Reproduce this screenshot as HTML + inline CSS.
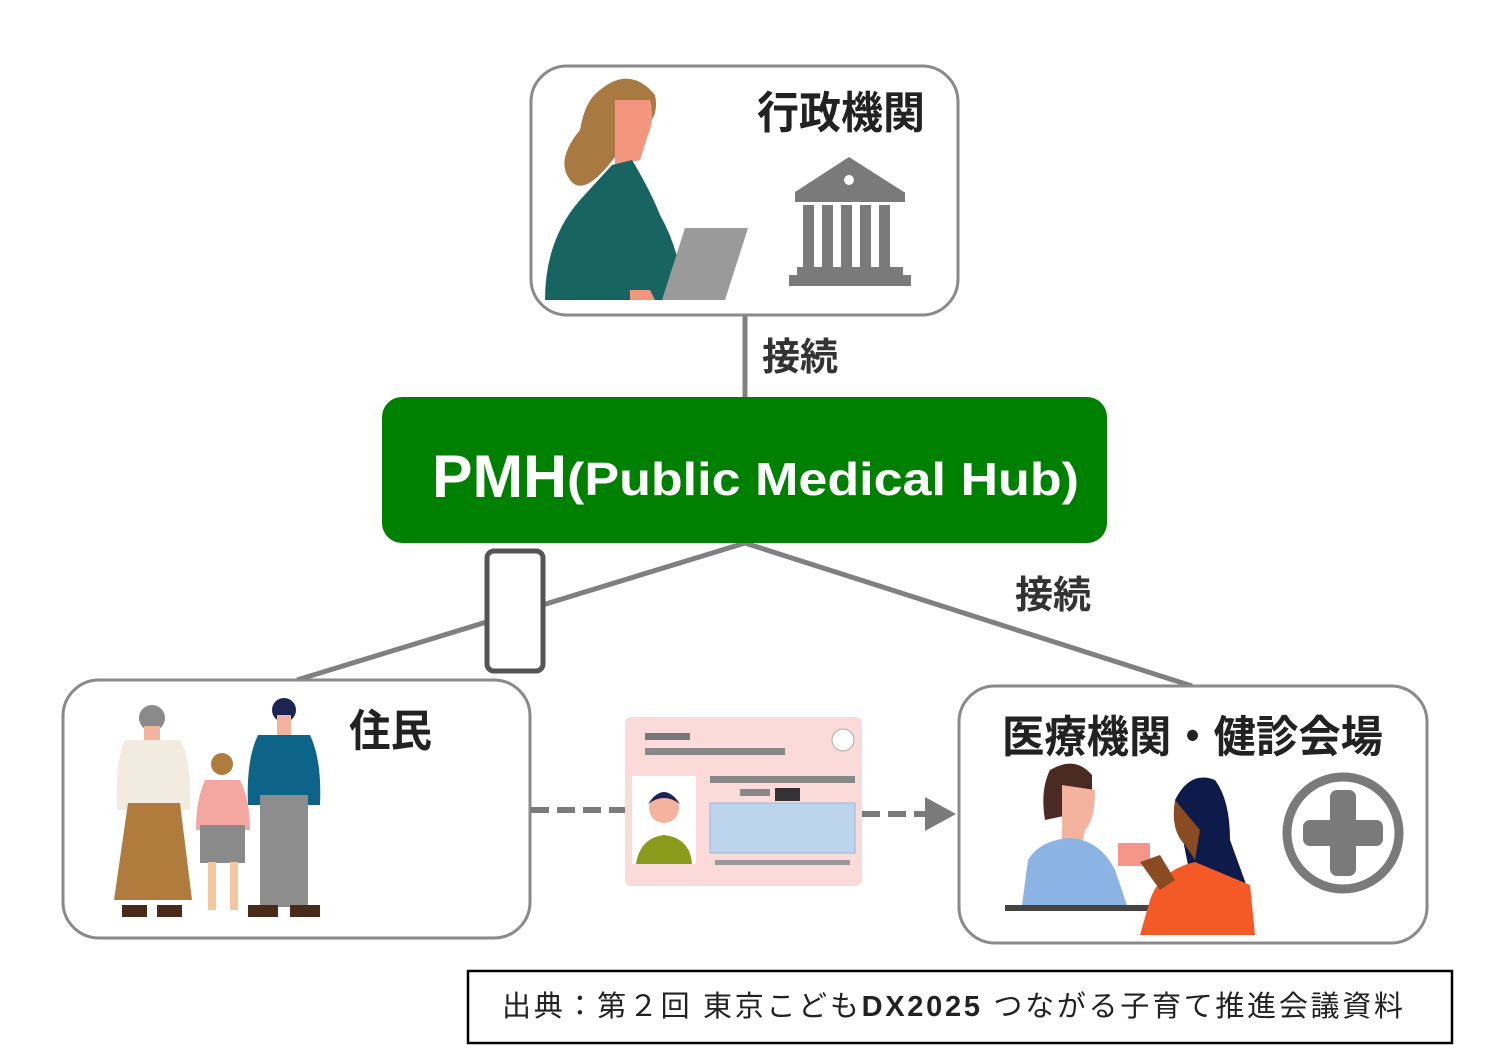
<!DOCTYPE html>
<html><head><meta charset="utf-8"><style>
html,body{margin:0;padding:0;background:#fff;}
svg{display:block;}
text{font-family:"Liberation Sans","Noto Sans CJK JP",sans-serif;}
</style></head><body>
<svg width="1490" height="1052" viewBox="0 0 1490 1052" xmlns="http://www.w3.org/2000/svg">
<line x1="745" y1="315" x2="745" y2="398" stroke="#808080" stroke-width="5"/>
<line x1="745" y1="543" x2="297" y2="680" stroke="#808080" stroke-width="5"/>
<line x1="745" y1="543" x2="1192" y2="686" stroke="#808080" stroke-width="5"/>
<text x="762" y="370" font-size="38" font-weight="bold" fill="#333" textLength="76" lengthAdjust="spacingAndGlyphs">接続</text>
<text x="1015" y="608" font-size="38" font-weight="bold" fill="#333" textLength="76" lengthAdjust="spacingAndGlyphs">接続</text>

<rect x="531" y="66" width="427" height="249" rx="36" fill="#fff" stroke="#8a8a8a" stroke-width="3"/>
<text x="757" y="128" font-size="44" font-weight="bold" fill="#222" textLength="168" lengthAdjust="spacingAndGlyphs">行政機関</text>
<path d="M600 90 Q630 65 655 95 Q660 120 640 130 L620 150 Q585 200 570 180 Q555 160 580 130 Q585 100 600 90Z" fill="#a87940"/>
<path d="M615 100 L650 100 Q655 120 648 135 L640 160 L615 165Z" fill="#f3957f"/>
<path d="M612 165 L632 160 Q650 190 660 215 Q680 250 685 300 L545 300 Q545 240 580 200Z" fill="#176461"/>
<path d="M685 228 L748 228 L725 300 L662 300Z" fill="#9a9a9a"/>
<path d="M630 290 L650 290 L655 300 L630 300Z" fill="#f3957f"/>
<polygon points="849,157 904,192 795,192" fill="#7a7a7a"/>
<circle cx="849" cy="180" r="5" fill="#fff"/>
<rect x="795" y="192" width="110" height="10" fill="#7a7a7a"/>
<rect x="803" y="205" width="11" height="62" fill="#7a7a7a"/>
<rect x="822" y="205" width="11" height="62" fill="#7a7a7a"/>
<rect x="841" y="205" width="11" height="62" fill="#7a7a7a"/>
<rect x="860" y="205" width="11" height="62" fill="#7a7a7a"/>
<rect x="879" y="205" width="11" height="62" fill="#7a7a7a"/>
<rect x="797" y="267" width="106" height="8" fill="#7a7a7a"/>
<rect x="789" y="275" width="122" height="11" fill="#7a7a7a"/>

<rect x="382" y="397" width="725" height="146" rx="20" fill="#008000"/>
<text x="432" y="497" font-size="60" font-weight="bold" fill="#fff" textLength="135" lengthAdjust="spacingAndGlyphs">PMH</text>
<text x="567" y="495" font-size="46" font-weight="bold" fill="#fff" textLength="512" lengthAdjust="spacingAndGlyphs">(Public Medical Hub)</text>

<rect x="487" y="551" width="56" height="120" rx="7" fill="#fff" stroke="#555" stroke-width="5"/>

<rect x="63" y="680" width="467" height="258" rx="36" fill="#fff" stroke="#8a8a8a" stroke-width="3"/>
<text x="349" y="746" font-size="44" font-weight="bold" fill="#222" textLength="83" lengthAdjust="spacingAndGlyphs">住民</text>
<circle cx="152" cy="718" r="13" fill="#8a8a8a"/>
<rect x="144" y="726" width="16" height="14" fill="#f3b39f"/>
<path d="M125 740 L180 740 Q192 760 190 810 L117 810 Q115 760 125 740Z" fill="#f1ecdf"/>
<path d="M128 803 L180 803 L192 900 L114 900Z" fill="#b07c3e"/>
<rect x="122" y="905" width="25" height="12" fill="#4a2a1a"/>
<rect x="157" y="905" width="25" height="12" fill="#4a2a1a"/>
<circle cx="222" cy="764" r="11" fill="#b07c3e"/>
<path d="M205 780 L240 780 Q250 800 250 830 L196 830 Q196 800 205 780Z" fill="#f4a6a0"/>
<rect x="200" y="825" width="45" height="38" fill="#8a8a8a"/>
<rect x="208" y="862" width="8" height="48" fill="#f3c79f"/>
<rect x="230" y="862" width="8" height="48" fill="#f3c79f"/>
<circle cx="284" cy="710" r="12" fill="#1c2550"/>
<rect x="277" y="715" width="14" height="22" fill="#f3b39f"/>
<path d="M258 735 L310 735 Q322 760 320 805 L248 805 Q246 760 258 735Z" fill="#0e6388"/>
<rect x="260" y="795" width="48" height="112" fill="#8d8d8d"/>
<rect x="248" y="905" width="30" height="12" fill="#4a2a1a"/>
<rect x="290" y="905" width="30" height="12" fill="#4a2a1a"/>

<line x1="531" y1="810" x2="625" y2="810" stroke="#7a7a7a" stroke-width="6" stroke-dasharray="18,8"/>
<line x1="862" y1="814" x2="925" y2="814" stroke="#7a7a7a" stroke-width="6" stroke-dasharray="18,8"/>
<polygon points="925,797 956,814 925,831" fill="#7a7a7a"/>

<rect x="625" y="717" width="237" height="169" rx="6" fill="#fbdada"/>
<rect x="632" y="776" width="64" height="88" fill="#fff"/>
<circle cx="664" cy="808" r="15" fill="#f3b39f"/>
<path d="M648 804 Q664 780 680 804 Q664 792 648 804Z" fill="#1c2550"/>
<path d="M636 864 Q640 838 664 835 Q690 838 692 864Z" fill="#8a9a1a"/>
<rect x="710" y="803" width="145" height="50" fill="#bcd4ec" stroke="#9bb8d6"/>
<rect x="645" y="748" width="140" height="7" fill="#888"/>
<rect x="710" y="776" width="145" height="7" fill="#888"/>
<rect x="740" y="789" width="30" height="7" fill="#888"/>
<rect x="775" y="788" width="25" height="13" fill="#333"/>
<rect x="715" y="860" width="135" height="5" fill="#999"/>
<rect x="645" y="733" width="45" height="7" fill="#777"/>
<circle cx="843" cy="740" r="11" fill="#fff" stroke="#aaa"/>

<rect x="959" y="686" width="468" height="257" rx="36" fill="#fff" stroke="#8a8a8a" stroke-width="3"/>
<text x="1002" y="752" font-size="44" font-weight="bold" fill="#222" textLength="381" lengthAdjust="spacingAndGlyphs">医療機関・健診会場</text>
<path d="M1050 770 Q1075 755 1092 775 L1092 810 L1045 820 Q1040 790 1050 770Z" fill="#4a2a22"/>
<path d="M1062 785 L1095 790 Q1095 820 1085 830 L1082 845 L1062 845Z" fill="#f3b39f"/>
<path d="M1028 860 Q1040 840 1070 838 Q1100 840 1115 870 L1127 905 L1022 905Z" fill="#8bb3e3"/>
<rect x="1005" y="905" width="145" height="6" fill="#444"/>
<rect x="1118" y="843" width="32" height="23" fill="#f6968a"/>
<path d="M1175 800 Q1190 770 1215 780 Q1230 800 1230 840 L1250 895 L1195 900 Z" fill="#0d1a4a"/>
<path d="M1175 800 Q1170 830 1185 845 L1195 860 L1200 830Z" fill="#8a4a22"/>
<path d="M1150 900 Q1160 870 1195 862 L1250 885 L1255 935 L1140 935Z" fill="#f45a26"/>
<path d="M1140 862 L1160 855 L1175 880 L1160 890Z" fill="#8a4a22"/>
<circle cx="1343" cy="833" r="56" fill="#fff" stroke="#7a7a7a" stroke-width="9"/>
<rect x="1330" y="790" width="26" height="86" rx="7" fill="#7a7a7a"/>
<rect x="1303" y="820" width="80" height="26" rx="7" fill="#7a7a7a"/>

<rect x="468" y="971" width="984" height="72" fill="#fff" stroke="#000" stroke-width="2.5"/>
<text x="502" y="1016" font-size="29" fill="#222" textLength="901" lengthAdjust="spacing">出典：第２回 東京こども<tspan font-weight="bold">DX2025</tspan> つながる子育て推進会議資料</text>
</svg>
</body></html>
